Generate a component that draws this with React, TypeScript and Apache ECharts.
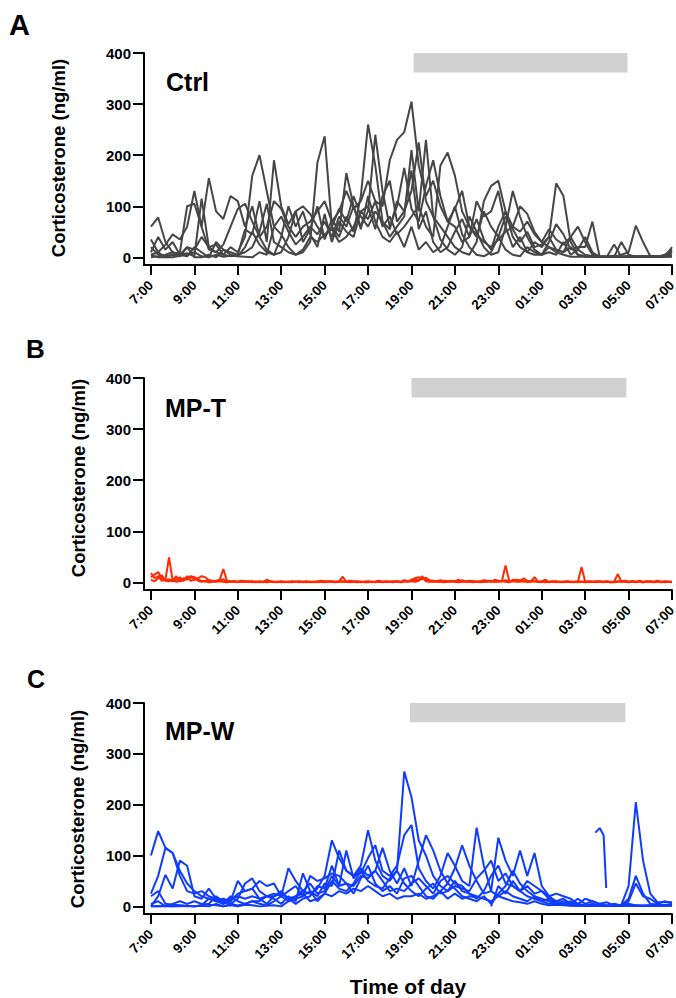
import React, { useEffect, useRef } from "react";
import * as echarts from "echarts";

// ---------- axis ticks ----------
const TICK_HOURS = [0, 2, 4, 6, 8, 10, 12, 14, 16, 18, 20, 22, 24]; // hours after 7:00
const TICK_LABELS = ["7:00", "9:00", "11:00", "13:00", "15:00", "17:00", "19:00", "21:00", "23:00", "01:00", "03:00", "05:00", "07:00"];
const Y_TICKS = [0, 100, 200, 300, 400];

// sampling step (hours) of each panel
const STEP_CTRL = 1 / 3;
const STEP_MPT = 1 / 6;
const STEP_MPW = 1 / 3;

// dark phase bar: [start hour, end hour] after 7:00, and its value range
const DARK_CTRL = [12.1, 21.95];
const DARK_MPT = [12.0, 21.9];
const DARK_MPW = [11.93, 21.85];
const DARK_Y = [362, 400];

// ---------- Ctrl (20-min samples, 7:00 -> 07:00) ----------
const CTRL_1 = [60,78,30, 10,5,20, 15,40,20, 10,25,60, 95,105,70, 40,60,110,
  95,60,40, 60,70,90, 110,70,90, 130,95,110, 150,110,100, 190,230,245,
  305,180,120, 150,100,70, 95,130,60, 40,90,60, 40,80,55, 30,50,20,
  25,40,15, 10,20,5, 2,1,1, 1,2,1, 1,1,2, 1,2,3, 5];
const CTRL_2 = [5,10,25, 45,35,60, 130,60,155, 90,75,120, 110,60,100, 40,15,5,
  10,40,90, 100,85,60, 40,60,95, 70,120,80, 60,90,70, 55,110,90,
  130,225,110, 80,60,40, 20,10,5, 30,110,140, 150,90,60, 50,70,45,
  30,55,35, 25,40,15, 5,2,1, 1,3,1, 2,1,1, 3,1,2, 10];
const CTRL_3 = [20,5,2, 5,10,100, 105,60,15, 10,5,20, 10,40,160, 200,130,60,
  45,20,5, 10,30,185, 237,60,40, 80,50,120, 260,180,70, 40,60,80,
  210,90,230, 80,35,15, 5,20,80, 50,20,5, 10,60,130, 80,40,15,
  5,20,10, 5,1,1, 1,1,1, 1,1,1, 1,2,1, 1,1,1, 2];
const CTRL_4 = [35,10,0, 5,2,20, 0,0,5, 0,15,10, 5,55,45, 110,30,190,
  100,65,90, 30,55,100, 35,75,50, 165,100,60, 90,240,130, 60,100,175,
  95,70,140, 190,120,70, 60,30,40, 75,35,15, 60,90,40, 20,10,30,
  20,40,145, 120,30,5, 1,1,1, 1,25,1, 2,1,1, 1,1,1, 20];
const CTRL_5 = [0,2,5, 10,5,8, 2,115,20, 25,5,2, 5,10,20, 50,105,30,
  20,10,5, 15,40,30, 45,55,30, 40,60,90, 75,110,60, 80,45,60,
  80,100,60, 40,180,205, 160,90,60, 45,30,20, 35,50,60, 100,85,50,
  30,20,15, 10,40,60, 30,5,2, 1,1,5, 10,62,30, 2,1,2, 12];
const CTRL_6 = [5,0,0, 0,3,5, 10,2,0, 5,1,3, 2,1,0, 10,5,60,
  80,50,25, 40,60,45, 70,40,80, 60,100,55, 120,70,40, 30,50,20,
  60,15,30, 10,20,60, 100,45,20, 5,2,10, 40,15,5, 2,20,10,
  5,30,65, 45,15,20, 20,70,1, 1,1,1, 1,1,1, 1,1,1, 1];
const CTRL_7 = [10,40,15, 30,5,2, 20,10,0, 30,15,5, 2,20,50, 25,10,5,
  40,100,60, 90,45,20, 85,30,70, 50,40,90, 100,55,120, 150,70,90,
  170,55,90, 30,10,20, 50,75,40, 110,80,90, 130,60,20, 40,10,5,
  5,10,5, 30,5,15, 40,10,1, 1,1,30, 5,1,1, 1,1,5, 15];

// ---------- MP-T (10-min samples) ----------
const MPT_1 = [18,8,12,3,5,49, 3,12,2,4,12,3, 5,8,12,10,4,2, 3,5,26,3,2,1, 1,2,1,1,0,1, 2,1,0,1,1,0,
  1,0,1,2,1,1, 0,1,1,0,2,1, 1,2,1,1,2,11, 1,1,2,1,0,1, 1,0,1,2,1,1, 1,2,1,0,1,2,
  3,5,4,12,2,1, 2,1,1,3,2,1, 2,1,4,1,1,2, 1,2,1,2,3,1, 2,3,33,3,2,1, 1,2,1,1,10,1,
  1,0,1,2,1,0, 1,1,1,0,1,30, 1,1,1,2,1,1, 1,0,1,16,2,1, 1,2,1,1,0,1, 2,1,1,0,1,1, 1];
const MPT_2 = [10,15,20,8,4,6, 2,5,10,3,8,12, 10,6,3,2,4,3, 2,3,6,2,1,2, 1,3,2,1,2,1, 0,1,5,2,1,1,
  2,1,1,0,1,2, 1,2,0,1,1,3, 2,1,2,1,1,2, 1,3,1,2,1,1, 2,1,1,3,1,2, 1,1,2,1,4,2,
  5,8,10,6,9,4, 3,2,4,2,1,3, 2,5,2,1,3,2, 1,2,4,3,1,5, 3,2,4,1,2,5, 4,2,1,3,2,1,
  2,5,1,1,2,1, 1,2,1,1,2,1, 1,2,1,1,2,1, 2,1,1,2,1,3, 1,2,1,3,1,2, 1,1,3,1,2,1, 1];
const MPT_3 = [5,2,8,14,3,2, 5,1,3,8,5,10, 8,3,1,2,0,1, 1,2,1,0,1,2, 0,1,1,2,1,0, 1,0,1,1,0,1,
  0,1,0,1,1,0, 1,0,1,1,0,1, 0,1,1,0,1,1, 1,0,1,0,1,0, 0,1,0,1,0,1, 1,0,2,1,3,1,
  2,1,3,8,4,2, 1,2,1,0,1,2, 1,0,1,2,1,0, 1,0,1,1,2,1, 1,2,1,0,5,4, 2,8,3,1,2,1,
  0,1,0,1,0,1, 0,1,0,1,0,1, 0,1,1,0,1,0, 1,0,0,1,2,1, 0,1,0,2,0,1, 1,0,1,1,0,1, 0];

// ---------- MP-W (20-min samples) ----------
const MPW_1 = [100,148,115, 105,60,30, 25,30,20, 15,10,15, 20,15,20, 15,20,20,
  25,15,20, 30,25,35, 60,130,95, 70,60,80, 150,90,60, 50,70,265,
  215,130,100, 60,40,30, 50,30,25, 20,15,10, 20,15,10, 8,5,10,
  5,2,3, 2,1,2, 1,2,1, 1,2,3, 40,205,90, 25,8,8, 8];
const MPW_2 = [25,60,115, 105,70,45, 30,20,15, 10,5,20, 10,5,10, 5,2,10,
  20,10,15, 20,30,20, 45,40,110, 70,60,65, 95,120,70, 60,80,140,
  160,75,50, 35,60,105, 80,50,40, 155,80,30, 20,30,20, 15,10,20,
  10,5,5, 5,2,1, 1,1,1, 1,1,2, 15,60,25, 5,3,2, 5];
const MPW_3 = [0,20,62, 35,90,80, 20,15,35, 15,5,10, 50,30,35, 50,40,45,
  20,75,50, 30,45,25, 30,60,40, 110,55,75, 60,70,115, 70,45,75,
  40,90,140, 110,70,45, 75,120,80, 50,25,30, 135,90,60, 110,60,105,
  40,20,10, 15,5,5, 2,1,1, 1,1,1, 5,2,1, 1,1,2, 3];
const MPW_4 = [0,0,1, 0,1,0, 0,2,5, 20,10,5, 15,45,55, 30,20,15,
  5,20,10, 65,30,10, 25,50,35, 30,45,70, 50,40,35, 55,70,45,
  30,20,35, 45,25,30, 40,35,30, 55,70,90, 50,65,40, 30,40,25,
  30,15,10, 5,10,2, 1,5,2, 1,1,1, 2,1,1, 2,1,2, 1];
const MPW_5 = [20,30,5, 3,2,1, 0,2,15, 12,15,10, 25,30,35, 15,5,20,
  30,15,5, 15,20,40, 35,80,40, 45,25,55, 80,45,30, 40,25,55,
  60,40,20, 15,30,45, 35,20,15, 10,20,5, 25,40,70, 45,30,20,
  15,10,5, 3,2,1, 1,1,1, 1,1,1, 2,1,1, 1,2,1, 4];
const MPW_6 = [0,0,0, 0,0,1, 0,1,0, 5,0,2, 0,3,2, 0,1,2,
  0,10,20, 25,10,15, 25,20,30, 25,35,30, 40,30,20, 25,15,20,
  20,25,15, 20,30,15, 25,15,20, 18,null,0, 40,25,50, 30,20,15,
  10,15,5, 10,5,15, 5,10,5, 8,2,1, 1,1,1, 1,1,1, 1];
const MPW_7 = [5,10,0, 5,10,5, 10,5,3, 2,0,5, 2,5,10, 10,20,25,
  20,30,40, 20,60,50, 55,65,60, 45,40,60, 55,70,50, 30,35,30,
  45,55,40, 25,50,60, 45,40,25, 15,30,60, 80,45,40, 30,50,40,
  30,20,25, 20,15,5, 15,10,5, 1,5,2, 10,45,20, 15,5,10, 6];
// short isolated MP-W trace around 03:30-04:00
const MPW_FRAG_HOURS = [20.47, 20.67, 20.85, 20.97];
const MPW_FRAG_VALUES = [145, 154, 140, 36];

const FONT = "'Liberation Sans', Arial, Helvetica, sans-serif";

function toPairs(values: (number | null)[], step: number) {
  return values.map((v, i) => [i * step, v === null ? "-" : v]);
}

export default function App() {
  const ref = useRef<HTMLDivElement>(null);

  useEffect(() => {
    if (!ref.current) return;
    const chart = echarts.init(ref.current, undefined, { renderer: "svg" });

    const panels = [
      { lists: [CTRL_1, CTRL_2, CTRL_3, CTRL_4, CTRL_5, CTRL_6, CTRL_7], step: STEP_CTRL, color: "#464646", dark: DARK_CTRL },
      { lists: [MPT_2, MPT_3, MPT_1], step: STEP_MPT, color: "#ff2a00", dark: DARK_MPT },
      { lists: [MPW_1, MPW_2, MPW_3, MPW_4, MPW_5, MPW_6, MPW_7], step: STEP_MPW, color: "#0f3cff", dark: DARK_MPW },
    ];
    const tops = [53, 378, 703];
    const heights = [212, 212, 211];

    const series: any[] = [];
    panels.forEach((p, pi) => {
      p.lists.forEach((vals, si) => {
        const s: any = {
          type: "line",
          xAxisIndex: pi,
          yAxisIndex: pi,
          data: toPairs(vals, p.step),
          symbol: "none",
          connectNulls: false,
          lineStyle: { color: p.color, width: 2 },
          itemStyle: { color: p.color },
          silent: true,
        };
        if (si === 0) {
          s.markArea = {
            silent: true,
            itemStyle: { color: "#d1d1d1", opacity: 1 },
            data: [[{ xAxis: p.dark[0], yAxis: DARK_Y[0] }, { xAxis: p.dark[1], yAxis: DARK_Y[1] }]],
          };
        }
        series.push(s);
      });
    });
    series.push({
      type: "line",
      xAxisIndex: 2,
      yAxisIndex: 2,
      data: MPW_FRAG_HOURS.map((h, i) => [h, MPW_FRAG_VALUES[i]]),
      symbol: "none",
      lineStyle: { color: "#0f3cff", width: 2 },
      silent: true,
    });

    const xAxis = [0, 1, 2].map((i) => ({
      type: "value",
      gridIndex: i,
      min: -0.32,
      max: 24,
      axisLine: { show: true, onZero: false, lineStyle: { color: "#000", width: 2 } },
      axisTick: { show: true, customValues: TICK_HOURS, length: 10, lineStyle: { color: "#000", width: 2 } },
      axisLabel: {
        show: true,
        customValues: TICK_HOURS,
        formatter: (v: number) => TICK_LABELS[Math.round(v / 2)],
        rotate: 45,
        align: "right",
        verticalAlign: "middle",
        fontSize: 13.5,
        fontWeight: "bold",
        fontFamily: FONT,
        color: "#000",
        margin: 18,
      },
      splitLine: { show: false },
    }));

    const yAxis = [0, 1, 2].map((i) => ({
      type: "value",
      gridIndex: i,
      min: -15,
      max: 400,
      axisLine: { show: true, onZero: false, lineStyle: { color: "#000", width: 2 } },
      axisTick: { show: true, customValues: Y_TICKS, length: 11, lineStyle: { color: "#000", width: 2 } },
      axisLabel: {
        show: true,
        customValues: Y_TICKS,
        fontSize: 15,
        fontWeight: "bold",
        fontFamily: FONT,
        color: "#000",
        margin: 13,
      },
      splitLine: { show: false },
    }));

    const txt = (text: string, x: number, y: number, size: number, align = "left", rotation = 0) => ({
      type: "text",
      x,
      y,
      rotation,
      silent: true,
      style: {
        text,
        x: 0,
        y: 0,
        fill: "#000",
        font: `bold ${size}px ${FONT}`,
        textAlign: align,
        textVerticalAlign: "middle",
      },
    });

    const graphic = [
      txt("A", 9, 25, 29),
      txt("B", 26, 349, 26),
      txt("C", 27, 679, 25),
      txt("Ctrl", 166, 82, 25),
      txt("MP-T", 165, 408, 25),
      txt("MP-W", 165, 731, 25),
      txt("Corticosterone (ng/ml)", 58, 158, 18.5, "center", Math.PI / 2),
      txt("Corticosterone (ng/ml)", 78, 478, 18.5, "center", Math.PI / 2),
      txt("Corticosterone (ng/ml)", 77, 809, 18.5, "center", Math.PI / 2),
      txt("Time of day", 408, 986, 21, "center"),
    ];

    chart.setOption({
      animation: false,
      backgroundColor: "#fff",
      grid: tops.map((t, i) => ({
        left: 144,
        right: 4,
        top: t,
        height: heights[i],
        containLabel: false,
        outerBoundsMode: "none",
      })),
      xAxis,
      yAxis,
      series,
      graphic,
    });

    return () => chart.dispose();
  }, []);

  return <div ref={ref} style={{ position: "absolute", left: 0, top: 0, width: 676, height: 998 }} />;
}
